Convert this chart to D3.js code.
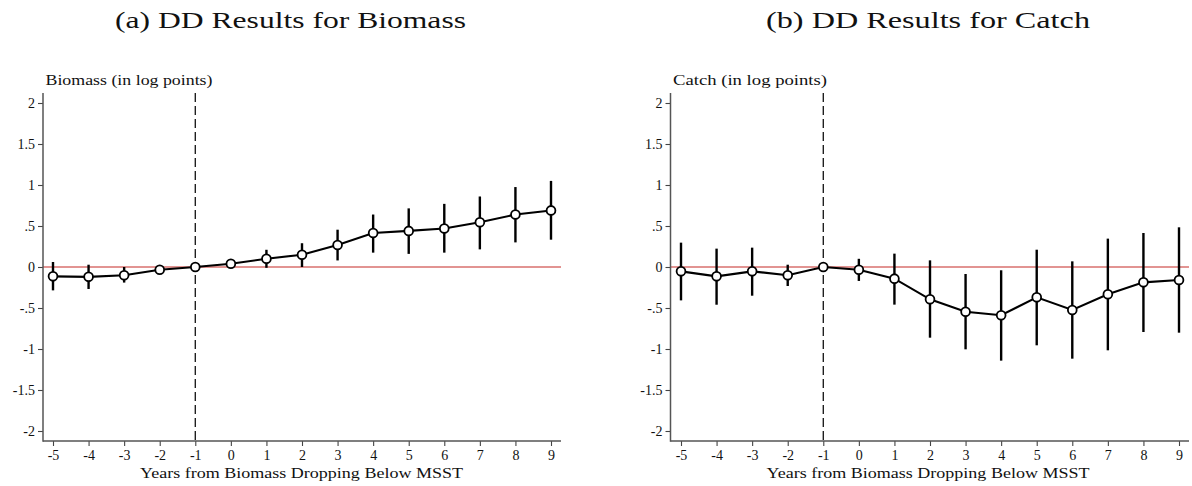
<!DOCTYPE html>
<html>
<head>
<meta charset="utf-8">
<script src="https://cdn.jsdelivr.net/npm/d3@7"></script>
<style>
  body { margin: 0; background: #fff; }
  svg { display: block; }
  text { font-family: "Liberation Serif", "DejaVu Serif", serif; fill: #111; }
</style>
</head>
<body>
<svg id="chart" width="1192" height="486"></svg>
<script>
// ---- data ----
const years = [-5, -4, -3, -2, -1, 0, 1, 2, 3, 4, 5, 6, 7, 8, 9];
const xTickLabels = ["-5","-4","-3","-2","-1","0","1","2","3","4","5","6","7","8","9"];
const yTicks = [2, 1.5, 1, 0.5, 0, -0.5, -1, -1.5, -2];
const yTickLabels = ["2","1.5","1",".5","0","-.5","-1","-1.5","-2"];

const biomassEst = [-0.114, -0.12, -0.10, -0.033, 0, 0.04, 0.10, 0.15, 0.268, 0.415, 0.44, 0.47, 0.545, 0.64, 0.69];
const biomassLo  = [-0.285, -0.268, -0.19, -0.06, 0, 0.02, -0.01, 0.0, 0.08, 0.175, 0.16, 0.175, 0.215, 0.30, 0.333];
const biomassHi  = [0.061, 0.028, 0.0, -0.005, 0, 0.065, 0.21, 0.29, 0.455, 0.64, 0.715, 0.77, 0.86, 0.975, 1.05];

const catchEst = [-0.053, -0.114, -0.053, -0.10, 0, -0.033, -0.142, -0.394, -0.545, -0.589, -0.37, -0.524, -0.333, -0.187, -0.159];
const catchLo  = [-0.407, -0.46, -0.35, -0.232, 0, -0.17, -0.459, -0.862, -1.004, -1.142, -0.955, -1.118, -1.016, -0.793, -0.801];
const catchHi  = [0.297, 0.224, 0.236, 0.028, 0, 0.10, 0.163, 0.081, -0.085, -0.04, 0.211, 0.069, 0.346, 0.415, 0.484];

const panelTitles = ["(a) DD Results for Biomass", "(b) DD Results for Catch"];
const yTitles = ["Biomass (in log points)", "Catch (in log points)"];
const xTitle = "Years from Biomass Dropping Below MSST";
const refYear = -1;

// ---- drawing ----
const svg = d3.select("#chart");

const panels = [
  { est: biomassEst, lo: biomassLo, hi: biomassHi, axisX: 43, x0: 53, x1: 551, xEnd: 561,
    title: panelTitles[0], titleX: 115, titleLen: 351,
    ytitle: yTitles[0], ytitleLen: 167, xtitleCx: 301.5 },
  { est: catchEst, lo: catchLo, hi: catchHi, axisX: 670.5, x0: 681, x1: 1179, xEnd: 1189,
    title: panelTitles[1], titleX: 766, titleLen: 324,
    ytitle: yTitles[1], ytitleLen: 154, xtitleCx: 928 }
];

const yTop = 93, yBottom = 441;

panels.forEach(p => {
  const g = svg.append("g");
  const x = d3.scaleLinear().domain([-5, 9]).range([p.x0, p.x1]);
  const y = d3.scaleLinear().domain([-2, 2]).range([431, 103]);

  // Panel title
  g.append("text")
    .attr("x", p.titleX).attr("y", 28)
    .attr("font-size", 23.5)
    .attr("textLength", p.titleLen)
    .attr("lengthAdjust", "spacingAndGlyphs")
    .text(p.title);

  // y title
  g.append("text")
    .attr("x", p.axisX + 2.5).attr("y", 85)
    .attr("font-size", 15.5)
    .attr("textLength", p.ytitleLen)
    .attr("lengthAdjust", "spacingAndGlyphs")
    .text(p.ytitle);

  // Reference line at zero
  g.append("line")
    .attr("x1", p.axisX).attr("x2", p.xEnd)
    .attr("y1", y(0)).attr("y2", y(0))
    .attr("stroke", "#d9706e").attr("stroke-width", 1.4);

  // Dashed vertical line
  g.append("line")
    .attr("x1", x(refYear)).attr("x2", x(refYear))
    .attr("y1", yTop).attr("y2", yBottom)
    .attr("stroke", "#111").attr("stroke-width", 1.3)
    .attr("stroke-dasharray", "9,4");

  // Y axis
  const yAxis = d3.axisLeft(y).tickValues(yTicks)
    .tickFormat((d, i) => yTickLabels[i]).tickSize(5).tickPadding(3).tickSizeOuter(0);
  const ya = g.append("g").attr("transform", `translate(${p.axisX},0)`).call(yAxis);
  ya.select(".domain").remove();
  ya.selectAll(".tick line").attr("stroke", "#444").attr("stroke-width", 1.1);
  ya.selectAll(".tick text").attr("font-size", 14).attr("font-family", "Liberation Serif, serif").attr("fill", "#111");
  g.append("line").attr("x1", p.axisX).attr("x2", p.axisX).attr("y1", yTop).attr("y2", yBottom + 0.7)
    .attr("stroke", "#555").attr("stroke-width", 1.5);

  // X axis
  const xAxis = d3.axisBottom(x).tickValues(years)
    .tickFormat((d, i) => xTickLabels[i]).tickSize(5).tickPadding(4).tickSizeOuter(0);
  const xa = g.append("g").attr("transform", `translate(0,${yBottom})`).call(xAxis);
  xa.select(".domain").remove();
  xa.selectAll(".tick line").attr("stroke", "#444").attr("stroke-width", 1.1);
  xa.selectAll(".tick text").attr("font-size", 14).attr("font-family", "Liberation Serif, serif").attr("fill", "#111");
  g.append("line").attr("x1", p.axisX).attr("x2", p.xEnd).attr("y1", yBottom).attr("y2", yBottom)
    .attr("stroke", "#555").attr("stroke-width", 1.5);

  // X title
  g.append("text")
    .attr("x", p.xtitleCx).attr("y", 478)
    .attr("font-size", 15.5)
    .attr("text-anchor", "middle")
    .attr("textLength", 323)
    .attr("lengthAdjust", "spacingAndGlyphs")
    .text(xTitle);

  const data = years.map((yr, i) => ({ yr, est: p.est[i], lo: p.lo[i], hi: p.hi[i] }));

  // CI lines
  g.selectAll(".ci").data(data.filter(d => d.yr !== refYear)).enter().append("line")
    .attr("x1", d => x(d.yr)).attr("x2", d => x(d.yr))
    .attr("y1", d => y(d.lo)).attr("y2", d => y(d.hi))
    .attr("stroke", "#000").attr("stroke-width", 2.4);

  // connecting line
  g.append("path").datum(data)
    .attr("d", d3.line().x(d => x(d.yr)).y(d => y(d.est)))
    .attr("fill", "none").attr("stroke", "#000").attr("stroke-width", 2.1);

  // markers
  g.selectAll(".pt").data(data).enter().append("circle")
    .attr("cx", d => x(d.yr)).attr("cy", d => y(d.est)).attr("r", 4.4)
    .attr("fill", "#fff").attr("stroke", "#000").attr("stroke-width", 1.8);
});
</script>
</body>
</html>
